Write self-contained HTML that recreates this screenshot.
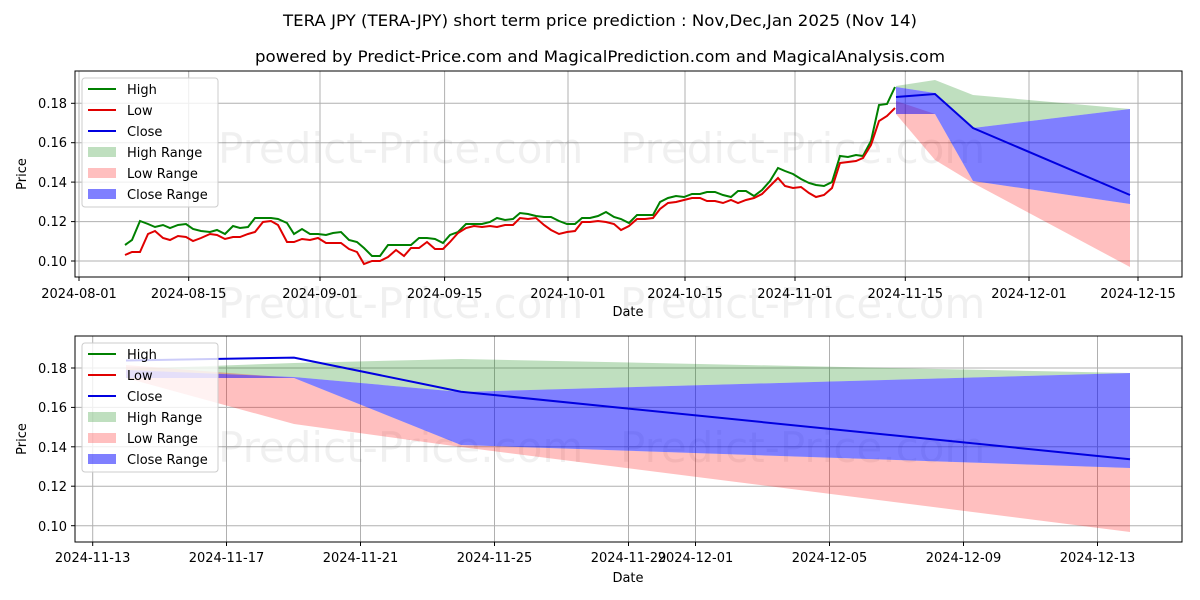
<!DOCTYPE html>
<html><head><meta charset="utf-8"><style>body{margin:0;background:#fff}svg{display:block}text{font-family:"DejaVu Sans","Liberation Sans",sans-serif}</style></head>
<body>
<svg width="1200" height="600" viewBox="0 0 1200 600" xmlns="http://www.w3.org/2000/svg">
<rect width="1200" height="600" fill="#fff"/>
<text x="600" y="26" font-size="16" text-anchor="middle" textLength="634" lengthAdjust="spacingAndGlyphs">TERA JPY (TERA-JPY) short term price prediction : Nov,Dec,Jan 2025 (Nov 14)</text>
<text x="600" y="62" font-size="16" text-anchor="middle" textLength="690" lengthAdjust="spacingAndGlyphs">powered by Predict-Price.com and MagicalPrediction.com and MagicalAnalysis.com</text>

<!-- TOP CHART -->
<g stroke="#b0b0b0" stroke-width="1">
<line x1="79" y1="71" x2="79" y2="277"/><line x1="188.7" y1="71" x2="188.7" y2="277"/><line x1="320" y1="71" x2="320" y2="277"/><line x1="444.6" y1="71" x2="444.6" y2="277"/><line x1="568" y1="71" x2="568" y2="277"/><line x1="685" y1="71" x2="685" y2="277"/><line x1="795" y1="71" x2="795" y2="277"/><line x1="905.3" y1="71" x2="905.3" y2="277"/><line x1="1029" y1="71" x2="1029" y2="277"/><line x1="1138" y1="71" x2="1138" y2="277"/>
<line x1="75" y1="103.3" x2="1182" y2="103.3"/><line x1="75" y1="142.7" x2="1182" y2="142.7"/><line x1="75" y1="182.1" x2="1182" y2="182.1"/><line x1="75" y1="221.6" x2="1182" y2="221.6"/><line x1="75" y1="261" x2="1182" y2="261"/>
</g>
<g fill="#000" fill-opacity="0.06" font-size="42">
<text x="218" y="163">Predict-Price.com</text><text x="620" y="163">Predict-Price.com</text>
<text x="218" y="318">Predict-Price.com</text><text x="620" y="318">Predict-Price.com</text>
</g>
<polygon fill="rgba(0,128,0,0.25)" points="896,86 935,80 973,95 1130,109 1130,109 973,128 935,93 896,87"/>
<polygon fill="rgba(255,0,0,0.25)" points="896,101 935,114 973,181 1130,204 1130,267 973,183 935,160 896,114"/>
<polygon fill="rgba(0,0,255,0.5)" points="896,87 935,93 973,128 1130,109 1130,204 973,181 935,114 896,114"/>
<polyline fill="none" stroke="#008000" stroke-width="2" points="125,245 132,240 140,221 148,224 155,227 163,225 170,228 178,225 186,224 193,229 201,231 210,232 217,230 225,234 233,226 240,228 248,227 255,218 263,218 271,218 278,219 287,223 294,234 302,229 310,234 318,234 326,235 333,233 341,232 349,240 357,242 364,248 372,256 380,256 388,245 396,245 404,245 411,245 419,238 427,238 435,239 443,243 450,235 458,232 466,224 474,224 482,224 490,222 497,218 505,220 513,219 520,213 528,214 536,216 544,217 551,217 559,221 567,224 575,224 582,218 590,218 598,216 606,212 614,217 621,219 629,223 637,215 645,215 653,215 660,202 668,198 676,196 684,197 692,194 700,194 707,192 715,192 723,195 731,197 738,191 746,191 754,196 762,190 770,181 778,168 785,171 793,174 801,179 809,183 816,185 824,186 832,182 840,156 848,157 856,155 863,156 871,141 879,105 887,104 895,87"/>
<polyline fill="none" stroke="#e00000" stroke-width="2" points="125,255 132,252 140,252 148,234 155,231 163,238 170,240 178,236 186,237 193,241 201,238 210,234 217,235 225,239 233,237 240,237 248,234 255,232 263,222 271,221 278,225 287,242 294,242 302,239 310,240 318,238 326,243 333,243 341,243 349,249 357,252 364,264 372,261 380,261 388,257 396,250 404,256 411,248 419,248 427,242 435,249 443,249 450,242 458,233 466,228 474,226 482,227 490,226 497,227 505,225 513,225 520,218 528,219 536,218 544,225 551,230 559,234 567,232 575,231 582,222 590,222 598,221 606,222 614,224 621,230 629,226 637,219 645,219 653,218 660,209 668,203 676,202 684,200 692,198 700,198 707,201 715,201 723,203 731,200 738,203 746,200 754,198 762,194 770,186 778,178 785,186 793,188 801,187 809,193 816,197 824,195 832,188 840,163 848,162 856,161 863,158 871,145 879,121 887,116 895,108"/>
<polyline fill="none" stroke="#0000e0" stroke-width="2" points="896,97 935,94 973,128 1130,195"/>
<rect x="75" y="71" width="1107" height="206" fill="none" stroke="#000" stroke-width="1"/>
<g stroke="#000"><line x1="79" y1="277" x2="79" y2="281"/><line x1="188.7" y1="277" x2="188.7" y2="281"/><line x1="320" y1="277" x2="320" y2="281"/><line x1="444.6" y1="277" x2="444.6" y2="281"/><line x1="568" y1="277" x2="568" y2="281"/><line x1="685" y1="277" x2="685" y2="281"/><line x1="795" y1="277" x2="795" y2="281"/><line x1="905.3" y1="277" x2="905.3" y2="281"/><line x1="1029" y1="277" x2="1029" y2="281"/><line x1="1138" y1="277" x2="1138" y2="281"/>
<line x1="71" y1="103.3" x2="75" y2="103.3"/><line x1="71" y1="142.7" x2="75" y2="142.7"/><line x1="71" y1="182.1" x2="75" y2="182.1"/><line x1="71" y1="221.6" x2="75" y2="221.6"/><line x1="71" y1="261" x2="75" y2="261"/></g>
<g font-size="13" text-anchor="middle"><text x="79" y="298">2024-08-01</text><text x="188.7" y="298">2024-08-15</text><text x="320" y="298">2024-09-01</text><text x="444.6" y="298">2024-09-15</text><text x="568" y="298">2024-10-01</text><text x="685" y="298">2024-10-15</text><text x="795" y="298">2024-11-01</text><text x="905.3" y="298">2024-11-15</text><text x="1029" y="298">2024-12-01</text><text x="1138" y="298">2024-12-15</text>
<text x="628" y="316">Date</text></g>
<g font-size="13" text-anchor="end"><text x="67" y="108">0.18</text><text x="67" y="147">0.16</text><text x="67" y="187">0.14</text><text x="67" y="226">0.12</text><text x="67" y="266">0.10</text></g>
<text transform="translate(26,174) rotate(-90)" font-size="13" text-anchor="middle">Price</text>
<g>
<rect x="82" y="78" width="136" height="129" rx="3" fill="#fff" fill-opacity="0.8" stroke="#ccc"/>
<line x1="88" y1="89" x2="116" y2="89" stroke="#008000" stroke-width="2"/><line x1="88" y1="110" x2="116" y2="110" stroke="#e00000" stroke-width="2"/><line x1="88" y1="131" x2="116" y2="131" stroke="#0000e0" stroke-width="2"/>
<rect x="88" y="147" width="28" height="10" fill="rgba(0,128,0,0.25)"/><rect x="88" y="168" width="28" height="10" fill="rgba(255,0,0,0.25)"/><rect x="88" y="189" width="28" height="10" fill="rgba(0,0,255,0.5)"/>
<g font-size="13"><text x="127" y="94">High</text><text x="127" y="115">Low</text><text x="127" y="136">Close</text><text x="127" y="157">High Range</text><text x="127" y="178">Low Range</text><text x="127" y="199">Close Range</text></g>
</g>

<!-- BOTTOM CHART -->
<g stroke="#b0b0b0" stroke-width="1">
<line x1="92.7" y1="336" x2="92.7" y2="542"/><line x1="226.5" y1="336" x2="226.5" y2="542"/><line x1="360.5" y1="336" x2="360.5" y2="542"/><line x1="494.5" y1="336" x2="494.5" y2="542"/><line x1="628.5" y1="336" x2="628.5" y2="542"/><line x1="695.5" y1="336" x2="695.5" y2="542"/><line x1="829.5" y1="336" x2="829.5" y2="542"/><line x1="963.5" y1="336" x2="963.5" y2="542"/><line x1="1097.5" y1="336" x2="1097.5" y2="542"/>
<line x1="75" y1="368" x2="1182" y2="368"/><line x1="75" y1="407.4" x2="1182" y2="407.4"/><line x1="75" y1="446.8" x2="1182" y2="446.8"/><line x1="75" y1="486.2" x2="1182" y2="486.2"/><line x1="75" y1="525.7" x2="1182" y2="525.7"/>
</g>
<text x="218" y="462" font-size="42" fill="#000" fill-opacity="0.06">Predict-Price.com</text><text x="620" y="462" font-size="42" fill="#000" fill-opacity="0.06">Predict-Price.com</text>
<polygon fill="rgba(0,128,0,0.25)" points="126,369 294,363 461,359 1130,373 1130,373 461,392 294,377 126,370"/>
<polygon fill="rgba(255,0,0,0.25)" points="126,365 294,378 461,445 1130,468 1130,532 461,447 294,424 126,378"/>
<polygon fill="rgba(0,0,255,0.5)" points="126,370 294,377 461,392 1130,373 1130,468 461,445 294,378 126,378"/>
<polyline fill="none" stroke="#0000e0" stroke-width="2" points="126,360.5 294,357.6 461,391.7 1130,459.2"/>
<rect x="75" y="336" width="1107" height="206" fill="none" stroke="#000" stroke-width="1"/>
<g stroke="#000"><line x1="92.7" y1="542" x2="92.7" y2="546"/><line x1="226.5" y1="542" x2="226.5" y2="546"/><line x1="360.5" y1="542" x2="360.5" y2="546"/><line x1="494.5" y1="542" x2="494.5" y2="546"/><line x1="628.5" y1="542" x2="628.5" y2="546"/><line x1="695.5" y1="542" x2="695.5" y2="546"/><line x1="829.5" y1="542" x2="829.5" y2="546"/><line x1="963.5" y1="542" x2="963.5" y2="546"/><line x1="1097.5" y1="542" x2="1097.5" y2="546"/>
<line x1="71" y1="368" x2="75" y2="368"/><line x1="71" y1="407.4" x2="75" y2="407.4"/><line x1="71" y1="446.8" x2="75" y2="446.8"/><line x1="71" y1="486.2" x2="75" y2="486.2"/><line x1="71" y1="525.7" x2="75" y2="525.7"/></g>
<g font-size="13" text-anchor="middle"><text x="92.7" y="562">2024-11-13</text><text x="226.5" y="562">2024-11-17</text><text x="360.5" y="562">2024-11-21</text><text x="494.5" y="562">2024-11-25</text><text x="628.5" y="562">2024-11-29</text><text x="695.5" y="562">2024-12-01</text><text x="829.5" y="562">2024-12-05</text><text x="963.5" y="562">2024-12-09</text><text x="1097.5" y="562">2024-12-13</text>
<text x="628" y="582">Date</text></g>
<g font-size="13" text-anchor="end"><text x="67" y="373">0.18</text><text x="67" y="412">0.16</text><text x="67" y="452">0.14</text><text x="67" y="491">0.12</text><text x="67" y="531">0.10</text></g>
<text transform="translate(26,439) rotate(-90)" font-size="13" text-anchor="middle">Price</text>
<g>
<rect x="82" y="343" width="136" height="129" rx="3" fill="#fff" fill-opacity="0.8" stroke="#ccc"/>
<line x1="88" y1="354" x2="116" y2="354" stroke="#008000" stroke-width="2"/><line x1="88" y1="375" x2="116" y2="375" stroke="#e00000" stroke-width="2"/><line x1="88" y1="396" x2="116" y2="396" stroke="#0000e0" stroke-width="2"/>
<rect x="88" y="412" width="28" height="10" fill="rgba(0,128,0,0.25)"/><rect x="88" y="433" width="28" height="10" fill="rgba(255,0,0,0.25)"/><rect x="88" y="454" width="28" height="10" fill="rgba(0,0,255,0.5)"/>
<g font-size="13"><text x="127" y="359">High</text><text x="127" y="380">Low</text><text x="127" y="401">Close</text><text x="127" y="422">High Range</text><text x="127" y="443">Low Range</text><text x="127" y="464">Close Range</text></g>
</g>
</svg>
</body></html>
